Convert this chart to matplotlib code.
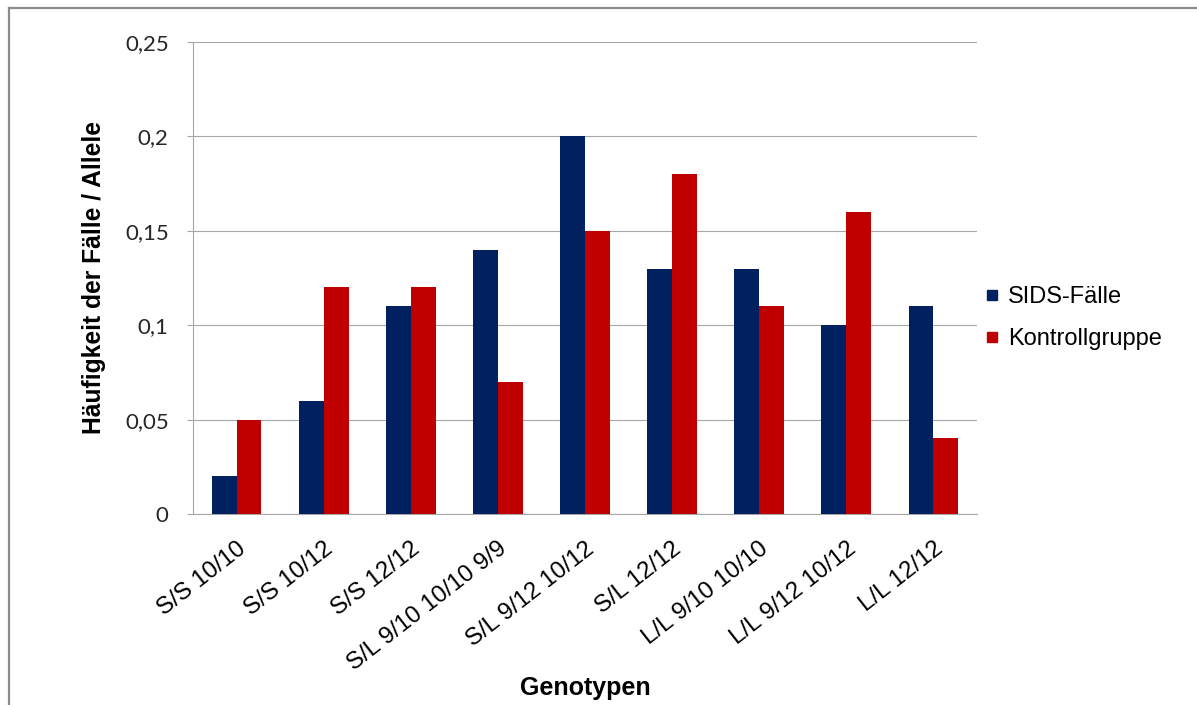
import matplotlib.pyplot as plt
import numpy as np
from matplotlib.lines import Line2D

genotypes = ['S/S 10/10', 'S/S 10/12', 'S/S 12/12', 'S/L 9/10 10/10 9/9',
             'S/L 9/12 10/12', 'S/L 12/12', 'L/L 9/10 10/10',
             'L/L 9/12 10/12', 'L/L 12/12']
sids = [0.02, 0.06, 0.11, 0.14, 0.20, 0.13, 0.13, 0.10, 0.11]
kontrolle = [0.05, 0.12, 0.12, 0.07, 0.15, 0.18, 0.11, 0.16, 0.04]
series_names = ['SIDS-Fälle', 'Kontrollgruppe']
y_ticks = [0, 0.05, 0.1, 0.15, 0.2, 0.25]
y_tick_labels = ['0', '0,05', '0,1', '0,15', '0,2', '0,25']

blue = '#002060'
red = '#C00000'
grid_gray = '#A6A6A6'

W, H = 1197, 705
fig = plt.figure(figsize=(W / 100, H / 100), dpi=100)
ax = fig.add_axes([193 / W, 1 - 514 / H, (977 - 193) / W, (514 - 42) / H])

x = np.arange(len(genotypes))
bw = 0.286
ax.bar(x - bw / 2, sids, bw, color=blue, zorder=3)
ax.bar(x + bw / 2, kontrolle, bw, color=red, zorder=3)

ax.set_xlim(-0.5, len(genotypes) - 0.5)
ax.set_ylim(0, 0.25)
ax.set_yticks(y_ticks)
ax.set_yticklabels(y_tick_labels, family='Lato', fontsize=16, color='#262626')
ax.set_xticks(x)
ax.set_xticklabels(genotypes, rotation=38, ha='right', va='top',
                   rotation_mode='anchor', family='Liberation Sans',
                   fontsize=17.3, color='black')
ax.tick_params(axis='x', length=0, pad=17)
ax.tick_params(axis='y', length=4.5, width=0.8, color=grid_gray, pad=13)
ax.yaxis.grid(True, color=grid_gray, linewidth=0.8, zorder=0)

for side in ['top', 'right']:
    ax.spines[side].set_visible(False)
for side in ['left', 'bottom']:
    ax.spines[side].set_color(grid_gray)
    ax.spines[side].set_linewidth(0.8)

ax.set_ylabel('Häufigkeit der Fälle / Allele', family='Liberation Sans',
              fontweight='bold', fontsize=17.7)
ax.yaxis.set_label_coords(106 / W, 1 - 278 / H, transform=fig.transFigure)
fig.text(585 / W, 1 - 688 / H, 'Genotypen', family='Liberation Sans',
         fontweight='bold', fontsize=18, ha='center', va='center')

handles = [Line2D([], [], marker='s', linestyle='none', color=c, markersize=6.5)
           for c in (blue, red)]
leg = ax.legend(handles, series_names, loc='center left',
                bbox_to_anchor=(964 / W, 1 - 318 / H),
                bbox_transform=fig.transFigure, frameon=False,
                prop={'family': 'Liberation Sans', 'size': 17},
                handlelength=0.6, handletextpad=0.35, labelspacing=0.85)

# outer chart frame (left and top edges visible)
fig.add_artist(Line2D([8.5 / W, 8.5 / W], [0, 1 - 8 / H], color='#8C8C8C',
                      linewidth=1.6, transform=fig.transFigure))
fig.add_artist(Line2D([8.5 / W, 1], [1 - 8 / H, 1 - 8 / H], color='#8C8C8C',
                      linewidth=1.6, transform=fig.transFigure))

fig.savefig('out.png', dpi=100)
